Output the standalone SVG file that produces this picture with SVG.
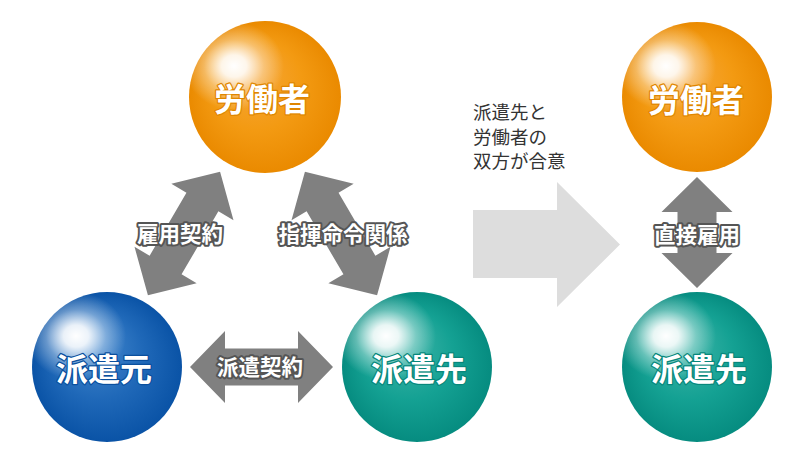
<svg xmlns="http://www.w3.org/2000/svg" width="801" height="468" viewBox="0 0 801 468">
<defs>
<radialGradient id="gOrange" cx="0.5" cy="0.5" r="0.5" fx="0.36" fy="0.3">
<stop offset="0" stop-color="#F7A940"/>
<stop offset="0.6" stop-color="#F39A12"/>
<stop offset="1" stop-color="#EA8A00"/>
</radialGradient>
<radialGradient id="gBlue" cx="0.5" cy="0.5" r="0.5" fx="0.36" fy="0.3">
<stop offset="0" stop-color="#4A8ED2"/>
<stop offset="0.6" stop-color="#1F68B8"/>
<stop offset="1" stop-color="#0A53A6"/>
</radialGradient>
<radialGradient id="gTeal" cx="0.5" cy="0.5" r="0.5" fx="0.36" fy="0.3">
<stop offset="0" stop-color="#45B8AC"/>
<stop offset="0.6" stop-color="#14A193"/>
<stop offset="1" stop-color="#068C80"/>
</radialGradient>
<radialGradient id="gHi" cx="0.5" cy="0.5" r="0.5">
<stop offset="0" stop-color="#FFFFFF" stop-opacity="1"/>
<stop offset="0.25" stop-color="#FFFFFF" stop-opacity="0.9"/>
<stop offset="0.6" stop-color="#FFFFFF" stop-opacity="0.35"/>
<stop offset="1" stop-color="#FFFFFF" stop-opacity="0"/>
</radialGradient>
<path id="dbl" d="M-71.5,0 L-36.5,-36 L-36.5,-18.5 L36.5,-18.5 L36.5,-36 L71.5,0 L36.5,36 L36.5,18.5 L-36.5,18.5 L-36.5,36 Z"/>
</defs>
<style>
.arrow{fill:#808080}
.lbl{font-family:"Noto Sans CJK JP","Noto Sans CJK SC",sans-serif;font-weight:bold;font-size:21.5px;fill:#FFFFFF;stroke:#555555;stroke-width:4;stroke-linejoin:round;paint-order:stroke;text-anchor:middle;dominant-baseline:central}
.node{font-family:"Noto Sans CJK JP","Noto Sans CJK SC",sans-serif;font-weight:bold;font-size:32px;fill:#FFFFFF;stroke-width:2.5;stroke-linejoin:round;paint-order:stroke;text-anchor:middle;dominant-baseline:central}
.note{font-family:"Noto Sans CJK JP","Noto Sans CJK SC",sans-serif;font-size:18.5px;fill:#333333}
</style>
<rect width="801" height="468" fill="#FFFFFF"/>
<g id="connectors">
<use href="#dbl" class="arrow" transform="translate(184,233.5) rotate(-59.7)"/>
<use href="#dbl" class="arrow" transform="translate(341,233.5) rotate(59.7)"/>
<use href="#dbl" class="arrow" transform="translate(261.5,367)"/>
<path class="arrow" d="M697,177 L732.5,212 L716.5,212 L716.5,253 L732.5,253 L697,288 L661.5,253 L677.5,253 L677.5,212 L661.5,212 Z"/>
<polygon fill="#DDDDDD" points="473,210 557,210 557,182 620,244.5 557,307 557,278 473,278"/>
<text class="lbl" x="180" y="232">雇用契約</text>
<text class="lbl" x="343" y="232">指揮命令関係</text>
<text class="lbl" x="260" y="365">派遣契約</text>
<text class="lbl" x="697" y="233">直接雇用</text>
</g>
<g id="note">
<text class="note" x="473" y="119">派遣先と</text>
<text class="note" x="473" y="143.5">労働者の</text>
<text class="note" x="473" y="168">双方が合意</text>
</g>
<g id="worker-left">
<circle cx="265" cy="97" r="76" fill="url(#gOrange)"/>
<ellipse cx="234" cy="66" rx="50" ry="44" fill="url(#gHi)"/>
<text class="node" x="262" y="97" stroke="#E08600">労働者</text>
</g>
<g id="haken-moto">
<circle cx="107" cy="367" r="75" fill="url(#gBlue)"/>
<ellipse cx="76" cy="336" rx="50" ry="44" fill="url(#gHi)"/>
<text class="node" x="104" y="367" stroke="#0A4F9E">派遣元</text>
</g>
<g id="haken-saki-left">
<circle cx="417" cy="367" r="75" fill="url(#gTeal)"/>
<ellipse cx="386" cy="336" rx="50" ry="44" fill="url(#gHi)"/>
<text class="node" x="419" y="367" stroke="#07877B">派遣先</text>
</g>
<g id="worker-right">
<circle cx="697" cy="97" r="75" fill="url(#gOrange)"/>
<ellipse cx="666" cy="66" rx="50" ry="44" fill="url(#gHi)"/>
<text class="node" x="696" y="98" stroke="#E08600">労働者</text>
</g>
<g id="haken-saki-right">
<circle cx="697" cy="367" r="75" fill="url(#gTeal)"/>
<ellipse cx="666" cy="336" rx="50" ry="44" fill="url(#gHi)"/>
<text class="node" x="699" y="367" stroke="#07877B">派遣先</text>
</g>
</svg>
